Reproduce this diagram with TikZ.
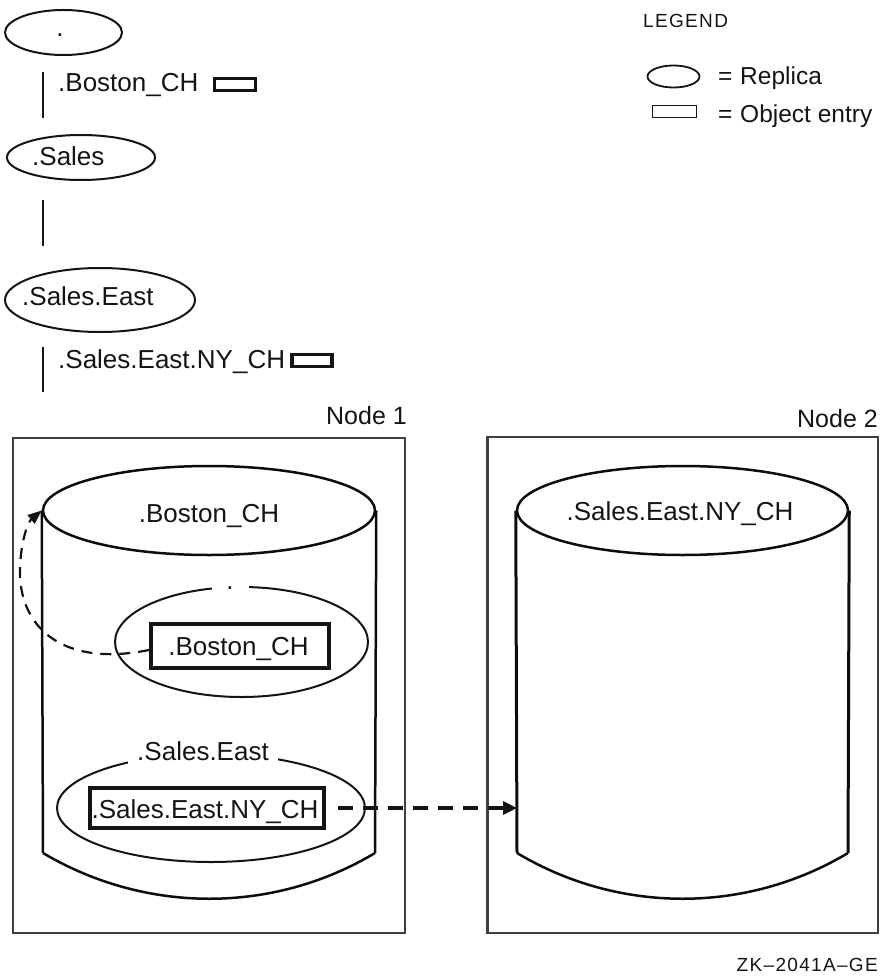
\documentclass[tikz,border=0pt]{standalone}
\usepackage{fontspec}
\setmainfont{Liberation Sans}
\usetikzlibrary{shapes.geometric,arrows.meta}
\begin{document}
\begin{tikzpicture}[x=1pt,y=-1pt,
  txt/.style={font=\fontsize{26}{30}\selectfont, text=black!92, inner sep=0pt},
  lgd/.style={font=\fontsize{24.5}{28}\selectfont, text=black!92, inner sep=0pt},
  small/.style={font=\fontsize{19}{22}\selectfont\addfontfeature{LetterSpace=7}, text=black!92, inner sep=0pt},
  rep/.style={draw=black!92, ellipse, line width=2pt, inner sep=0pt},
  objsmall/.style={draw=black!92, line width=3.4pt, inner sep=0pt},
  objbox/.style={draw=black!92, line width=4pt, inner sep=0pt},
  tline/.style={draw=black!92, line width=2.2pt},
  nodebox/.style={draw=black!75, line width=2.3pt, inner sep=0pt},
  cyl/.style={draw=black!95, line width=2.5pt},
  gap/.style={fill=white, inner sep=0pt},
  thindash/.style={draw=black!92, line width=2.2pt, dash pattern=on 11pt off 8pt},
  thickdash/.style={draw=black!92, line width=4.8pt, dash pattern=on 15pt off 10pt},
]
\useasboundingbox (0,0) rectangle (881,976);

% ---------- hierarchy ----------
\node[rep, minimum width=117, minimum height=45] (root) at (63.5,32.5) {};
\node[txt] (rootdot) at (60,35) {.};
\coordinate (t1a) at (43,72); \coordinate (t1b) at (43,118);
\draw[tline] (t1a) -- (t1b);
\node[txt, anchor=base west] (bosname) at (58,92) {.Boston\_CH};
\node[objsmall, minimum width=41, minimum height=12] (bosobj) at (235,84.5) {};

\node[rep, minimum width=148, minimum height=45] (sales) at (81,157.5) {};
\node[txt, anchor=base west] (salestxt) at (32,166) {.Sales};
\coordinate (t2a) at (43,200); \coordinate (t2b) at (43,246);
\draw[tline] (t2a) -- (t2b);

\node[rep, minimum width=190, minimum height=64] (seast) at (100,300) {};
\node[txt, anchor=base west] (seasttxt) at (22,305) {.Sales.East};
\coordinate (t3a) at (43,347); \coordinate (t3b) at (43,392);
\draw[tline] (t3a) -- (t3b);
\node[txt, anchor=base west] (nyname) at (58,368) {.Sales.East.NY\_CH};
\node[objsmall, minimum width=40, minimum height=12] (nyobj) at (312,360.5) {};

% ---------- legend ----------
\node[small, anchor=base west] (legend) at (643,28) {LEGEND};
\node[rep, line width=1.8pt, minimum width=52, minimum height=22] (lgell) at (673.5,76.5) {};
\node[lgd, anchor=base west] (lgeq1) at (718,85) {=};
\node[lgd, anchor=base west] (lgrep) at (740,85) {Replica};
\node[draw=black!92, line width=1.8pt, inner sep=0pt, minimum width=44, minimum height=12] (lgrect) at (674.5,111.5) {};
\node[lgd, anchor=base west] (lgeq2) at (718,123) {=};
\node[lgd, anchor=base west] (lgobj) at (740,123) {Object entry};

% ---------- Node 1 ----------
\node[nodebox, minimum width=392, minimum height=495] (n1) at (209,685.5) {};
\node[txt, font=\fontsize{25}{29}\selectfont, anchor=base east] (n1lbl) at (407,424) {Node 1};

\node[rep, cyl, minimum width=332, minimum height=89] (c1top) at (209,510.5) {};
\node[txt, anchor=base] (c1txt) at (209,522) {.Boston\_CH};
\coordinate (c1bl) at (43,853); \coordinate (c1br) at (375,853);
\draw[cyl] (c1top.west) -- (c1bl);
\draw[cyl] (c1top.east) -- (c1br);
\draw[cyl] (c1bl) .. controls (146,914) and (273,914) .. (c1br);

\node[rep, minimum width=253, minimum height=110] (rootrep) at (241.5,642) {};
\node[txt, gap, minimum width=37, minimum height=8] (rootgap) at (230,588) {.};
\node[objbox, minimum width=178, minimum height=44] (bosbox) at (240,646) {};
\node[txt, anchor=base] (bosboxtxt) at (238.5,655) {.Boston\_CH};

\node[rep, minimum width=308, minimum height=108] (serep) at (211,808) {};
\node[txt, gap, inner xsep=9pt, inner ysep=3pt] (segap) at (203,751) {.Sales.East};
\node[objbox, minimum width=234, minimum height=40] (nybox) at (207,808) {};
\node[txt, anchor=base] (nyboxtxt) at (205,818) {.Sales.East.NY\_CH};

% ---------- Node 2 ----------
\node[nodebox, minimum width=390.5, minimum height=496] (n2) at (682.75,685) {};
\node[txt, font=\fontsize{25}{29}\selectfont, anchor=base east] (n2lbl) at (878,427) {Node 2};

\node[rep, cyl, minimum width=331, minimum height=89] (c2top) at (682.5,510.5) {};
\node[txt, anchor=base] (c2txt) at (680,520) {.Sales.East.NY\_CH};
\coordinate (c2bl) at (517,853); \coordinate (c2br) at (848,853);
\draw[cyl, line width=3pt] (c2top.west) -- (c2bl);
\draw[cyl, line width=3pt] (c2top.east) -- (c2br);
\draw[cyl] (c2bl) .. controls (619,914) and (746,914) .. (c2br);

% ---------- connectors ----------
\coordinate (c2in) at (517,808);
\draw[thickdash, -{Triangle[length=14pt,width=13pt]}] ([xshift=12pt]nybox.east) -- (c2in);
\draw[thindash, -{Triangle[length=14pt,width=11pt]}] ([yshift=-4pt]bosbox.west)
  .. controls (60,668) and (18,625) .. (20,568)
  .. controls (21,540) and (28,522) .. (c1top.west);

\node[small, anchor=base east] (zk) at (878,971) {ZK–2041A–GE};
\end{tikzpicture}
\end{document}
